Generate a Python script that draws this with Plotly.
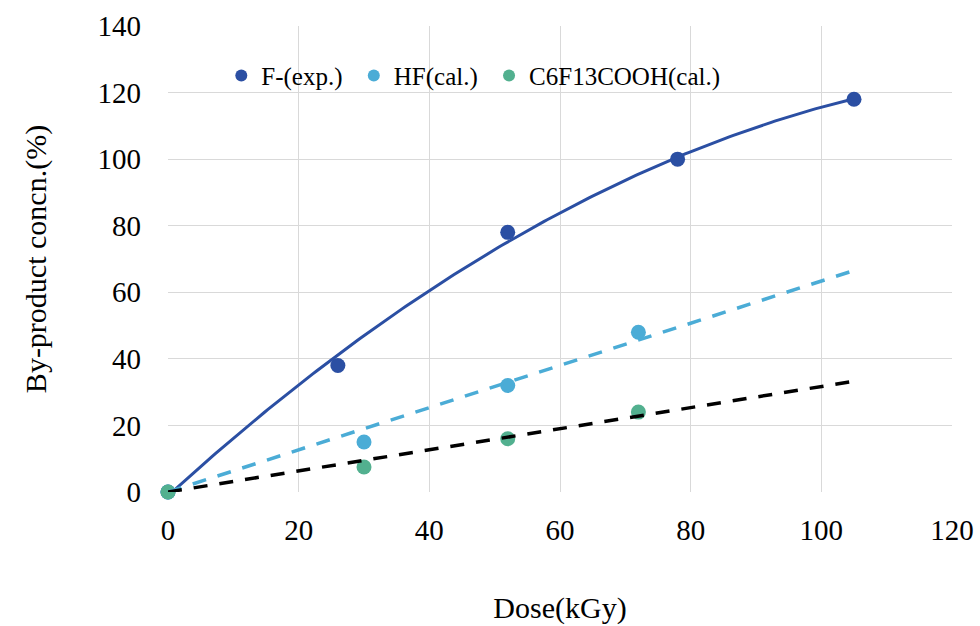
import numpy as np
import plotly.graph_objects as go

dose_f = [0, 26, 52, 78, 105]
conc_f = [0, 38, 78, 100, 118]
dose_hf = [0, 30, 52, 72]
conc_hf = [0, 15, 32, 48]
dose_c6 = [0, 30, 52, 72]
conc_c6 = [0, 7.5, 16, 24]

names = ["F-(exp.)", "HF(cal.)", "C6F13COOH(cal.)"]
colors = ["#2B4FA3", "#4BACD6", "#52B08F"]
trend_colors = ["#2B4FA3", "#4BACD6", "#000000"]
x_ticks = [0, 20, 40, 60, 80, 100, 120]
y_ticks = [0, 20, 40, 60, 80, 100, 120, 140]

fig = go.Figure()

for xd, yd, n, c in [(dose_f, conc_f, names[0], colors[0]),
                     (dose_hf, conc_hf, names[1], colors[1]),
                     (dose_c6, conc_c6, names[2], colors[2])]:
    fig.add_trace(go.Scatter(x=xd, y=yd, mode="markers", name=n + "\u00a0", cliponaxis=False,
                             marker=dict(color=c, size=15)))

# Trendlines computed from the data (drawn over the markers, as in the reference)
xs = np.linspace(0, max(dose_f), 200)
pf = np.polyfit(dose_f, conc_f, 2)
fig.add_trace(go.Scatter(x=xs, y=np.polyval(pf, xs), mode="lines",
                         line=dict(color=trend_colors[0], width=3), showlegend=False, hoverinfo="skip"))

def slope0(x, y):
    x = np.array(x, float); y = np.array(y, float)
    return (x * y).sum() / (x * x).sum()

xl = np.array([0, max(dose_f)])
fig.add_trace(go.Scatter(x=xl, y=slope0(dose_hf, conc_hf) * xl, mode="lines",
                         line=dict(color=trend_colors[1], width=3.5, dash="14px,12px"),
                         showlegend=False, hoverinfo="skip"))
fig.add_trace(go.Scatter(x=xl, y=slope0(dose_c6, conc_c6) * xl, mode="lines",
                         line=dict(color=trend_colors[2], width=3.5, dash="14px,12px"),
                         showlegend=False, hoverinfo="skip"))

font = "'Liberation Serif', 'Times New Roman', Times, serif"
fig.update_layout(
    width=980, height=626,
    paper_bgcolor="white", plot_bgcolor="white",
    margin=dict(l=168, r=28, t=26, b=134),
    font=dict(family=font, size=29, color="black"),
    showlegend=True,
    legend=dict(orientation="h", x=0.068, y=0.893, xanchor="left", yanchor="middle",
                bgcolor="rgba(0,0,0,0)", font=dict(size=25, family=font),
                itemsizing="constant", traceorder="normal", itemwidth=30),
    xaxis=dict(range=[0, 120], tickvals=x_ticks, showgrid=True, gridcolor="#d9d9d9", gridwidth=1,
               zeroline=False, showline=False, ticks="", tickfont=dict(size=29, family=font),
               ticklabelstandoff=18, automargin=False,
               title=dict(text="Dose(kGy)", font=dict(size=30, family=font), standoff=51)),
    yaxis=dict(range=[0, 140], tickvals=y_ticks, showgrid=True, gridcolor="#d9d9d9", gridwidth=1,
               zeroline=False, showline=False, ticks="", tickfont=dict(size=29, family=font),
               ticklabelstandoff=26, automargin=False,
               title=dict(text="By-product concn.(%)", font=dict(size=30, family=font), standoff=42)),
)

fig.write_html("out.html")
